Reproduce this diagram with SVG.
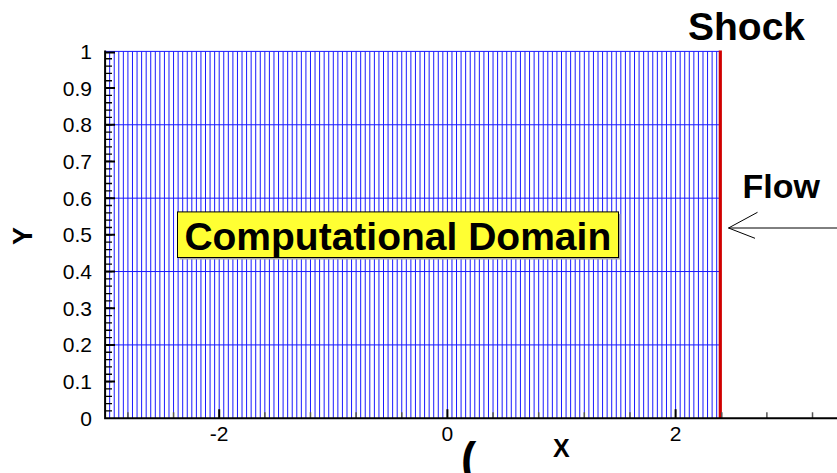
<svg xmlns="http://www.w3.org/2000/svg" width="837" height="473" viewBox="0 0 837 473">
<style>
.grid{fill:none;stroke:#1a1aff;stroke-width:1}
.axis{fill:none;stroke:#000;stroke-width:2}
.minor{fill:none;stroke:#000;stroke-width:1.3}
.minx{fill:none;stroke:#555;stroke-width:1.5}
.num{font-family:"Liberation Sans",Arial,sans-serif;font-size:21px;fill:#000}
.bold{font-family:"Liberation Sans",Arial,sans-serif;font-weight:bold;fill:#000}
.thin{fill:none;stroke:#000;stroke-width:1}
</style>
<rect width="837" height="473" fill="#fff"/>
<g id="grid">
<path class="grid" d="M109.664 51.4v366.9
m4.564-366.9v366.9m4.564-366.9v366.9m4.564-366.9v366.9m4.564-366.9v366.9m4.564-366.9v366.9m4.564-366.9v366.9m4.564-366.9v366.9m4.564-366.9v366.9m4.564-366.9v366.9m4.564-366.9v366.9
m4.564-366.9v366.9m4.564-366.9v366.9m4.564-366.9v366.9m4.564-366.9v366.9m4.564-366.9v366.9m4.564-366.9v366.9m4.564-366.9v366.9m4.564-366.9v366.9m4.564-366.9v366.9m4.564-366.9v366.9
m4.564-366.9v366.9m4.564-366.9v366.9m4.564-366.9v366.9m4.564-366.9v366.9m4.564-366.9v366.9m4.564-366.9v366.9m4.564-366.9v366.9m4.564-366.9v366.9m4.564-366.9v366.9m4.564-366.9v366.9
m4.564-366.9v366.9m4.564-366.9v366.9m4.564-366.9v366.9m4.564-366.9v366.9m4.564-366.9v366.9m4.564-366.9v366.9m4.564-366.9v366.9m4.564-366.9v366.9m4.564-366.9v366.9m4.564-366.9v366.9
m4.564-366.9v366.9m4.564-366.9v366.9m4.564-366.9v366.9m4.564-366.9v366.9m4.564-366.9v366.9m4.564-366.9v366.9m4.564-366.9v366.9m4.564-366.9v366.9m4.564-366.9v366.9m4.564-366.9v366.9
m4.564-366.9v366.9m4.564-366.9v366.9m4.564-366.9v366.9m4.564-366.9v366.9m4.564-366.9v366.9m4.564-366.9v366.9m4.564-366.9v366.9m4.564-366.9v366.9m4.564-366.9v366.9m4.564-366.9v366.9
m4.564-366.9v366.9m4.564-366.9v366.9m4.564-366.9v366.9m4.564-366.9v366.9m4.564-366.9v366.9m4.564-366.9v366.9m4.564-366.9v366.9m4.564-366.9v366.9m4.564-366.9v366.9m4.564-366.9v366.9
m4.564-366.9v366.9m4.564-366.9v366.9m4.564-366.9v366.9m4.564-366.9v366.9m4.564-366.9v366.9m4.564-366.9v366.9m4.564-366.9v366.9m4.564-366.9v366.9m4.564-366.9v366.9m4.564-366.9v366.9
m4.564-366.9v366.9m4.564-366.9v366.9m4.564-366.9v366.9m4.564-366.9v366.9m4.564-366.9v366.9m4.564-366.9v366.9m4.564-366.9v366.9m4.564-366.9v366.9m4.564-366.9v366.9m4.564-366.9v366.9
m4.564-366.9v366.9m4.564-366.9v366.9m4.564-366.9v366.9m4.564-366.9v366.9m4.564-366.9v366.9m4.564-366.9v366.9m4.564-366.9v366.9m4.564-366.9v366.9m4.564-366.9v366.9m4.564-366.9v366.9
m4.564-366.9v366.9m4.564-366.9v366.9m4.564-366.9v366.9m4.564-366.9v366.9m4.564-366.9v366.9m4.564-366.9v366.9m4.564-366.9v366.9m4.564-366.9v366.9m4.564-366.9v366.9m4.564-366.9v366.9
m4.564-366.9v366.9m4.564-366.9v366.9m4.564-366.9v366.9m4.564-366.9v366.9m4.564-366.9v366.9m4.564-366.9v366.9m4.564-366.9v366.9m4.564-366.9v366.9m4.564-366.9v366.9m4.564-366.9v366.9
m4.564-366.9v366.9m4.564-366.9v366.9m4.564-366.9v366.9m4.564-366.9v366.9m4.564-366.9v366.9m4.564-366.9v366.9m4.564-366.9v366.9m4.564-366.9v366.9m4.564-366.9v366.9m4.564-366.9v366.9
m4.564-366.9v366.9m4.564-366.9v366.9m4.564-366.9v366.9"/>
<path class="grid" d="M105 51.4H720M105 124.78H720M105 198.16H720M105 271.54H720M105 344.92H720"/>
</g>
<g id="shock">
<path d="M720.3 50.4V418.3" stroke="#d00000" stroke-width="3.2" fill="none"/>
<text class="bold" x="688" y="39.5" font-size="39">Shock</text>
</g>
<g id="axes">
<path class="minor" d="M105 410.962h7m-7-7.338h7m-7-7.338h7m-7-7.338h7m-7-7.338h7m-7-7.338h7m-7-7.338h7m-7-7.338h7m-7-7.338h7m-7-7.338h7m-7-7.338h7m-7-7.338h7m-7-7.338h7m-7-7.338h7m-7-7.338h7m-7-7.338h7m-7-7.338h7m-7-7.338h7m-7-7.338h7m-7-7.338h7m-7-7.338h7m-7-7.338h7m-7-7.338h7m-7-7.338h7m-7-7.338h7m-7-7.338h7m-7-7.338h7m-7-7.338h7m-7-7.338h7m-7-7.338h7m-7-7.338h7m-7-7.338h7m-7-7.338h7m-7-7.338h7m-7-7.338h7m-7-7.338h7m-7-7.338h7m-7-7.338h7m-7-7.338h7m-7-7.338h7m-7-7.338h7m-7-7.338h7m-7-7.338h7m-7-7.338h7m-7-7.338h7m-7-7.338h7m-7-7.338h7m-7-7.338h7m-7-7.338h7"/>
<path class="axis" d="M105 381.61h10M105 344.92h10M105 308.23h10M105 271.54h10M105 234.85h10M105 198.16h10M105 161.47h10M105 124.78h10M105 88.09h10M105 52.4h10"/>
<path class="minx" d="M127.92 418.3v-6M173.56 418.3v-6M264.84 418.3v-6M310.48 418.3v-6M356.12 418.3v-6M401.76 418.3v-6M493.04 418.3v-6M538.68 418.3v-6M584.32 418.3v-6M629.96 418.3v-6M721.8 418.3v-6M766.88 418.3v-6M812.52 418.3v-6"/>
<path class="axis" d="M219.2 418.3v-9M447.4 418.3v-9M675.6 418.3v-9"/>
<path class="axis" d="M105.1 50.4V419.3M104.1 418.3H837"/>
<g class="num" text-anchor="end">
<text x="92" y="58.9">1</text>
<text x="92" y="95.5">0.9</text>
<text x="92" y="132.2">0.8</text>
<text x="92" y="168.9">0.7</text>
<text x="92" y="205.6">0.6</text>
<text x="92" y="242.3">0.5</text>
<text x="92" y="279">0.4</text>
<text x="92" y="315.6">0.3</text>
<text x="92" y="352.3">0.2</text>
<text x="92" y="389">0.1</text>
<text x="92" y="425.7">0</text>
</g>
<g class="num" text-anchor="middle">
<text x="219.2" y="440.5">-2</text>
<text x="447.4" y="440.5">0</text>
<text x="675.6" y="440.5">2</text>
</g>
<text class="bold" x="553" y="457" font-size="25">X</text>
<text class="bold" font-size="27" text-anchor="middle" transform="translate(31.7 236) rotate(-90)">Y</text>
<text class="bold" x="461" y="475" font-size="46">(</text>
</g>
<g id="domain">
<rect x="179.5" y="213.9" width="441" height="45.6" fill="#aaaaaa"/>
<rect x="177.5" y="211.9" width="441" height="45.6" fill="#ffff33" stroke="#000" stroke-width="1"/>
<text class="bold" x="397.8" y="249.5" font-size="39" text-anchor="middle">Computational Domain</text>
</g>
<g id="flow">
<text class="bold" x="742.5" y="198.3" font-size="34">Flow</text>
<path class="thin" d="M837 228H728.5M757.5 212.3L728.5 228L755 238.3"/>
</g>
</svg>
